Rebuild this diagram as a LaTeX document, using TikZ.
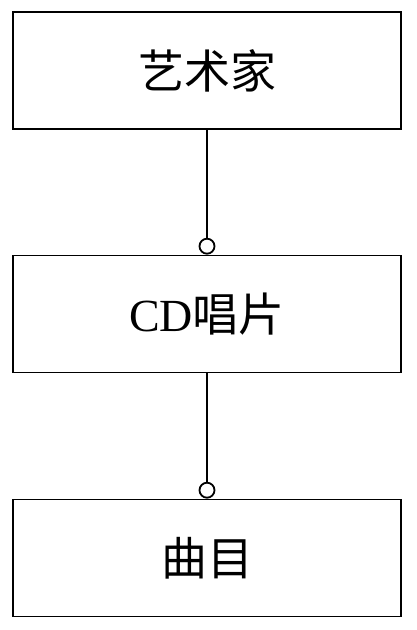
\documentclass[tikz,border=0pt]{standalone}
\usepackage{fontspec}
\setmainfont{Liberation Serif}
\newfontfamily\cjk{Noto Sans CJK SC}
\usetikzlibrary{positioning}

\begin{document}
\begin{tikzpicture}[x=1pt,y=1pt]
\tikzset{font=\fontsize{46}{50}\selectfont}
\tikzset{entity/.style={draw, line width=1.8pt, minimum width=388pt, minimum height=117pt, inner sep=0pt}}
\tikzset{ring/.style={draw, circle, line width=1.8pt, fill=white, minimum size=15pt, inner sep=0pt}}
\tikzset{link/.style={draw, line width=1.6pt}}
\useasboundingbox (0,0) rectangle (416,630);
\node[entity] (artist) at (207,559.5) {\cjk 艺术家};
\node[entity] (album) at (207,316) {CD\cjk 唱片};
\node[entity] (track) at (207,72) {\cjk 曲目};
\node[ring, above=0pt of album] (albumring) {};
\node[ring, above=0pt of track] (trackring) {};
\draw[link] (artist) -- (albumring);
\draw[link] (album) -- (trackring);
\end{tikzpicture}
\end{document}
